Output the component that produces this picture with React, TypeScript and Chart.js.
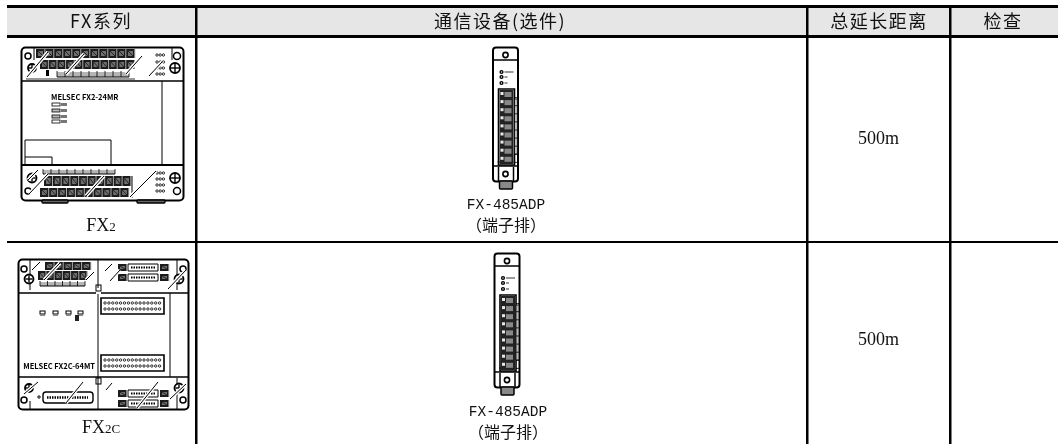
import React, { useEffect, useRef } from "react";
import { Chart, registerables } from "chart.js";

Chart.register(...registerables);

const headers = ["FX系列", "通信设备(选件)", "总延长距离", "检查"];
const models = ["FX2", "FX2C"];
const modelSubscripts = ["2", "2C"];
const options = ["FX-485ADP", "FX-485ADP"];
const optionNotes = ["（端子排）", "（端子排）"];
const distances = ["500m", "500m"];
const plateNames = ["MELSEC FX2-24MR", "MELSEC FX2C-64MT"];

const serif = '"Liberation Serif", serif';
const gothic = '"Noto Sans CJK SC", sans-serif';
const mono = '"Liberation Mono", monospace';

type C = CanvasRenderingContext2D;

function rrect(c: C, x: number, y: number, w: number, h: number, r: number, lw = 1, fill?: string) {
  c.beginPath();
  c.roundRect(x, y, w, h, r);
  if (fill) { c.fillStyle = fill; c.fill(); }
  c.lineWidth = lw;
  c.strokeStyle = "#000";
  c.stroke();
}
function seg(c: C, x1: number, y1: number, x2: number, y2: number, lw = 1, col = "#000") {
  c.beginPath();
  c.moveTo(x1, y1);
  c.lineTo(x2, y2);
  c.lineWidth = lw;
  c.strokeStyle = col;
  c.stroke();
}
function ring(c: C, x: number, y: number, r: number, lw = 1.5) {
  c.beginPath();
  c.arc(x, y, r, 0, Math.PI * 2);
  c.fillStyle = "#fff";
  c.fill();
  c.lineWidth = lw;
  c.strokeStyle = "#000";
  c.stroke();
}
function screw(c: C, x: number, y: number, r: number) {
  ring(c, x, y, r, 1.8);
  seg(c, x - r + 1, y, x + r - 1, y, 1.4);
  seg(c, x, y - r + 1, x, y + r - 1, 1.4);
}
function terminals(c: C, x: number, y: number, n: number, w: number, h: number) {
  c.fillStyle = "#1c1c1c";
  c.fillRect(x, y, n * w, h);
  for (let i = 0; i < n; i++) {
    c.fillStyle = "#6e6e6e";
    c.fillRect(x + i * w + 2, y + 2, w - 4, h - 4);
    seg(c, x + i * w + 2, y + 2, x + (i + 1) * w - 2, y + h - 2, 0.8, "#111");
    seg(c, x + (i + 1) * w - 0.2, y, x + (i + 1) * w - 0.2, y + h, 1, "#aaa");
  }
}
function strip(c: C, x: number, y: number, n: number, w: number, h: number) {
  c.fillStyle = "#b5b5b5";
  c.fillRect(x, y, n * w, h);
  for (let i = 0; i <= n; i++) seg(c, x + i * w, y - 1, x + i * w, y + h, 0.8);
  seg(c, x, y + h, x + n * w, y + h, 1);
}
function glare(c: C, x1: number, y1: number, x2: number, y2: number) {
  seg(c, x1, y1, x2, y2, 3.5, "#fff");
  seg(c, x1, y1, x2, y2, 1);
}
function dots(c: C, x: number, y: number, n: number, step: number) {
  for (let i = 0; i < n; i++) {
    c.beginPath();
    c.arc(x + i * step, y, 1.2, 0, Math.PI * 2);
    c.lineWidth = 0.8;
    c.strokeStyle = "#000";
    c.stroke();
  }
}

function drawFx2(c: C, name: string) {
  rrect(c, 21.5, 47.5, 162, 153, 4, 2, "#fff");
  seg(c, 22, 81, 183, 81, 1.5);
  seg(c, 22, 165, 183, 165, 2);
  seg(c, 162, 81, 162, 165, 1);
  seg(c, 34, 48, 34, 60, 1);
  seg(c, 172, 48, 172, 60, 1);
  terminals(c, 36, 49, 11, 9, 9);
  terminals(c, 40, 60, 11, 8.6, 9);
  strip(c, 57, 72, 9, 8, 5);
  seg(c, 26, 79, 135, 79, 0.8);
  c.fillStyle = "#000";
  c.fillRect(46, 70, 3, 6);
  ring(c, 28, 56, 3);
  ring(c, 177, 56, 3.5);
  screw(c, 32, 68, 4);
  screw(c, 175, 68, 5);
  [55, 62, 68, 74].forEach((y) => dots(c, 157, y, 3, 3.2));
  glare(c, 27, 77, 48, 52);
  glare(c, 66, 74, 84, 54);
  glare(c, 126, 74, 142, 56);
  glare(c, 149, 76, 162, 62);

  c.fillStyle = "#000";
  c.font = `bold 7.5px ${gothic}`;
  c.textAlign = "left";
  c.textBaseline = "middle";
  c.fillText(name, 51, 97);
  [[52, 103, "#fff"], [52, 109, "#bbb"], [52, 115, "#bbb"], [52, 120, "#fff"]].forEach(([x, y, f]) => {
    c.fillStyle = f as string;
    c.fillRect(x as number, y as number, 8, 3);
    c.lineWidth = 0.8;
    c.strokeStyle = "#000";
    c.strokeRect(x as number, y as number, 8, 3);
    c.fillStyle = "#777";
    c.fillRect((x as number) + 9, y as number, 6, 3);
  });
  c.beginPath();
  c.moveTo(25, 165);
  c.lineTo(25, 140);
  c.lineTo(111, 140);
  c.lineTo(111, 165);
  c.moveTo(25, 157);
  c.lineTo(52, 157);
  c.lineTo(52, 165);
  c.lineWidth = 1;
  c.strokeStyle = "#000";
  c.stroke();

  seg(c, 22, 165, 183, 165, 2);
  strip(c, 43, 170, 9, 8, 4);
  terminals(c, 44, 176, 10, 8.7, 10);
  terminals(c, 40, 188, 10, 8.9, 9);
  seg(c, 132, 176, 132, 198, 1);
  ring(c, 28, 191, 3);
  ring(c, 177, 191, 3.5);
  screw(c, 32, 178, 4.5);
  screw(c, 175, 178, 5);
  [173, 179, 185, 191].forEach((y) => dots(c, 157, y, 3, 3.2));
  glare(c, 28, 180, 38, 170);
  glare(c, 29, 194, 48, 174);
  glare(c, 86, 196, 104, 176);
  glare(c, 130, 197, 156, 171);
  rrect(c, 42, 200, 26, 3, 1, 1.4, "#666");
  rrect(c, 137, 200, 28, 3, 1, 1.4, "#666");
}

function drawFx2c(c: C, name: string) {
  rrect(c, 18.5, 259.5, 170, 150, 4, 2, "#fff");
  seg(c, 19, 293, 188, 293, 1.5);
  seg(c, 19, 377, 188, 377, 1.5);
  seg(c, 98, 260, 98, 409, 1);
  seg(c, 170, 293, 170, 377, 1);
  seg(c, 30, 260, 30, 290, 1);
  seg(c, 177, 260, 177, 290, 1);
  seg(c, 30, 401, 30, 409, 1);
  seg(c, 177, 378, 177, 409, 1);
  c.fillStyle = "#fff";
  c.fillRect(96, 288, 5, 6);
  c.strokeStyle = "#000";
  c.lineWidth = 1;
  c.strokeRect(96, 285, 5, 6);
  c.strokeRect(96, 378, 5, 6);

  terminals(c, 45, 262, 5, 9.2, 8);
  terminals(c, 38, 271, 6, 8.2, 9);
  strip(c, 40, 282, 6, 7.5, 4);
  ring(c, 24, 269, 3);
  ring(c, 183, 269, 3);
  screw(c, 29, 279, 4.5);
  screw(c, 179, 279, 4.5);
  glare(c, 32, 270, 40, 262);
  glare(c, 44, 280, 60, 263);
  glare(c, 86, 280, 94, 272);
  glare(c, 168, 289, 186, 270);

  [[118, 263], [118, 273]].forEach(([x, y]) => {
    c.fillStyle = "#fff";
    rrect(c, x + 10, y + 1, 30, 7, 0, 1);
    terminals(c, x, y + 1, 1, 9, 7);
    terminals(c, x + 42, y + 1, 1, 9, 7);
    c.setLineDash([1.5, 1]);
    seg(c, x + 13, y + 4.5, x + 37, y + 4.5, 2);
    c.setLineDash([]);
  });
  glare(c, 105, 271, 112, 264);
  glare(c, 110, 281, 120, 270);

  [[101, 298], [101, 355]].forEach(([x, y]) => {
    c.fillStyle = "#fff";
    rrect(c, x, y, 63, 16, 0, 1.6);
    dots(c, x + 4, y + 5, 15, 3.9);
    dots(c, x + 4, y + 11, 15, 3.9);
  });

  [[40, "#fff"], [53, "#fff"], [66, "#fff"], [78, "#fff"]].forEach(([x, f]) => {
    c.fillStyle = f as string;
    c.lineWidth = 1;
    c.strokeStyle = "#000";
    c.strokeRect(x as number, 311, 5, 3);
    c.fillStyle = "#888";
    c.fillRect(x as number, 315, 5, 1);
  });
  c.fillStyle = "#222";
  c.fillRect(75, 315, 4, 6);
  c.fillStyle = "#000";
  c.font = `bold 7.5px ${gothic}`;
  c.textAlign = "right";
  c.textBaseline = "middle";
  c.fillText(name, 95, 366);

  ring(c, 24, 400, 3);
  ring(c, 183, 400, 3);
  screw(c, 29, 388, 4);
  screw(c, 179, 388, 4.5);
  glare(c, 24, 394, 38, 382);
  glare(c, 170, 399, 186, 384);
  c.fillStyle = "#fff";
  rrect(c, 43, 392, 50, 11, 3, 1.4);
  c.setLineDash([1.5, 1]);
  seg(c, 47, 397.5, 88, 397.5, 2.5);
  c.setLineDash([]);
  ring(c, 39, 397, 1.2, 1);
  glare(c, 66, 403, 83, 382);
  [[118, 390], [118, 400]].forEach(([x, y]) => {
    c.fillStyle = "#fff";
    rrect(c, x + 10, y, 30, 7, 0, 1);
    terminals(c, x, y, 1, 9, 7);
    terminals(c, x + 42, y, 1, 9, 7);
    c.setLineDash([1.5, 1]);
    seg(c, x + 13, y + 3.5, x + 37, y + 3.5, 2);
    c.setLineDash([]);
  });
  glare(c, 137, 408, 158, 382);
  glare(c, 106, 390, 112, 383);
}

function drawAdp(c: C, x: number, y: number) {
  rrect(c, x + 0.5, y + 0.5, 25, 134, 3, 2, "#fff");
  seg(c, x + 1, y + 13, x + 25, y + 13, 1.5);
  seg(c, x + 1, y + 119, x + 25, y + 119, 1.5);
  ring(c, x + 13, y + 8, 2.6, 1.6);
  ring(c, x + 13, y + 127, 2.6, 1.6);
  seg(c, x + 6, y + 120, x + 6, y + 134, 1.5);
  seg(c, x + 21, y + 120, x + 21, y + 134, 1.5);
  rrect(c, x + 7, y + 134, 13, 8, 1, 1.5, "#888");
  ring(c, x + 9, y + 25, 1.4, 1.4);
  ring(c, x + 9, y + 30, 1.4, 1.4);
  ring(c, x + 9, y + 36, 1.4, 1.4);
  c.fillStyle = "#999";
  c.fillRect(x + 12, y + 24, 9, 2);
  c.fillRect(x + 12, y + 29, 3, 2);
  c.fillRect(x + 12, y + 35, 3, 2);
  c.fillRect(x + 5, y + 114, 16, 2);
  c.fillStyle = "#fff";
  rrect(c, x + 6, y + 42, 16, 76, 0, 1.6);
  rrect(c, x + 22, y + 52, 3, 55, 0, 0.8, "#bbb");
  c.fillStyle = "#222";
  c.fillRect(x + 7, y + 43, 14, 74);
  for (let i = 0; i < 9; i++) {
    const ty = y + 44 + i * 8.1;
    c.fillStyle = "#e8e8e8";
    c.fillRect(x + 8, ty + 1, 3, 3);
    c.fillStyle = "#888";
    c.fillRect(x + 12, ty + 1, 7, 5);
    seg(c, x + 22, ty + 6.6, x + 25, ty + 6.6, 0.8);
  }
}

const tablePlugin = {
  id: "tableCells",
  beforeDraw(chart: any) {
    const { ctx: c, scales } = chart;
    const { x, y } = scales;
    c.save();
    c.fillStyle = "#e6e6e6";
    c.fillRect(x.left, y.getPixelForValue(6), x.right - x.left, y.getPixelForValue(36) - y.getPixelForValue(6));
    c.restore();
  },
  afterDraw(chart: any) {
    const { ctx: c } = chart;
    c.save();
    chart.data.datasets.forEach((ds: any, i: number) => {
      const els = chart.getDatasetMeta(i).data;
      c.fillStyle = "#111";
      c.textAlign = "center";
      c.textBaseline = "middle";
      c.font = ds.cellFont;
      c.letterSpacing = ds.cellSpacing || "0px";
      ds.cellTexts.forEach((t: string, k: number) => {
        const e = els[k];
        if (ds.subscripts) {
          const sub = ds.subscripts[k];
          const base = t.slice(0, t.length - sub.length);
          c.font = "18px " + serif;
          const bw = c.measureText(base).width;
          c.font = "13px " + serif;
          const sw = c.measureText(sub).width;
          const left = e.x - (bw + sw) / 2;
          c.textAlign = "left";
          c.font = "18px " + serif;
          c.fillText(base, left, e.y);
          c.font = "13px " + serif;
          c.fillText(sub, left + bw, e.y + 1.5);
          c.textAlign = "center";
        } else {
          c.fillText(t, e.x, e.y);
        }
      });
      c.letterSpacing = "0px";
    });
    drawFx2(c, plateNames[0]);
    drawFx2c(c, plateNames[1]);
    drawAdp(c, 492.5, 47);
    drawAdp(c, 494, 253);
    c.restore();
  },
};

export default function App() {
  const ref = useRef<HTMLCanvasElement>(null);
  useEffect(() => {
    document.body.style.margin = "0";
    const anchor = (xs: number[], ys: number[]) => xs.map((v, i) => ({ x: v, y: ys[i] }));
    const hidden = { showLine: false, pointRadius: 0, pointHoverRadius: 0 };
    const chart = new Chart(ref.current!, {
      type: "scatter",
      data: {
        datasets: [
          { ...hidden, label: "header", data: anchor([101, 500, 879, 1003], [21, 21, 21, 21]), cellTexts: headers, cellFont: `18px ${gothic}`, cellSpacing: "1.5px" },
          { ...hidden, label: "model", data: anchor([101, 101], [226, 428]), cellTexts: models, subscripts: modelSubscripts, cellFont: `18px ${serif}` },
          { ...hidden, label: "option", data: anchor([506, 508], [205, 412]), cellTexts: options, cellFont: `14.5px ${mono}` },
          { ...hidden, label: "note", data: anchor([506, 508], [225, 432]), cellTexts: optionNotes, cellFont: `16px ${gothic}` },
          { ...hidden, label: "distance", data: anchor([878.5, 878.5], [139, 340]), cellTexts: distances, cellFont: `18px ${serif}` },
        ] as any,
      },
      options: {
        animation: false,
        responsive: false,
        events: [],
        layout: { padding: { left: 7, top: 6, right: 0, bottom: 0 } },
        plugins: { legend: { display: false }, tooltip: { enabled: false } },
        scales: {
          x: {
            type: "linear",
            min: 7,
            max: 1058,
            border: { display: false },
            ticks: { display: false },
            grid: { color: "#000", lineWidth: 2.5, drawTicks: false },
            afterBuildTicks: (s: any) => { s.ticks = [196, 807, 950].map((value) => ({ value })); },
          },
          y: {
            type: "linear",
            reverse: true,
            min: 6,
            max: 444,
            border: { display: false },
            ticks: { display: false },
            grid: {
              color: "#000",
              drawTicks: false,
              lineWidth: (ctx: any) => (ctx.tick && ctx.tick.value === 242 ? 2 : 3),
            },
            afterBuildTicks: (s: any) => { s.ticks = [6, 36, 242].map((value) => ({ value })); },
          },
        },
      } as any,
      plugins: [tablePlugin as any],
    });
    return () => chart.destroy();
  }, []);
  return <canvas ref={ref} width={1058} height={444} style={{ display: "block", filter: "blur(0.4px)" }} />;
}
